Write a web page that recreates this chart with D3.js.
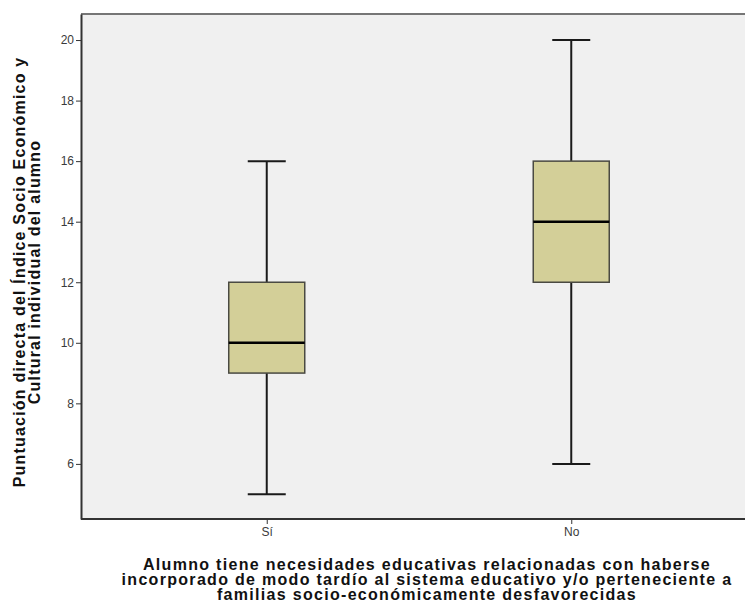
<!DOCTYPE html>
<html>
<head>
<meta charset="utf-8">
<script src="https://cdn.jsdelivr.net/npm/d3@7"></script>
<style>
  body { margin: 0; background: #fff; }
  svg { display: block; font-family: "Liberation Sans", Arial, sans-serif; }
</style>
</head>
<body>
<svg id="chart" width="745" height="610"></svg>
<script>
// data
const categories = ["Sí", "No"];
const whiskerLow = [5, 6];
const q1 = [9, 12];
const medians = [10, 14];
const q3 = [12, 16];
const whiskerHigh = [16, 20];
const yTicks = [6, 8, 10, 12, 14, 16, 18, 20];

const boxes = categories.map((c, i) => ({
  cat: c, lo: whiskerLow[i], q1: q1[i], med: medians[i], q3: q3[i], hi: whiskerHigh[i]
}));

const svg = d3.select("#chart");
const plotLeft = 81, plotRight = 757, plotTop = 14, plotBottom = 519;

const y = d3.scaleLinear().domain([4.18, 20.86]).range([plotBottom, plotTop]);
const x = d3.scalePoint().domain(categories).range([plotLeft, plotRight]).padding(0.61);

// plot background
svg.append("rect")
  .attr("x", plotLeft).attr("y", plotTop)
  .attr("width", 745 - plotLeft).attr("height", plotBottom - plotTop)
  .attr("fill", "#f0f0f0");

// top frame line
svg.append("line")
  .attr("x1", plotLeft).attr("x2", 745)
  .attr("y1", plotTop).attr("y2", plotTop)
  .attr("stroke", "#767676").attr("stroke-width", 2);

const boxW = 76, capW = 38;

const g = svg.append("g").selectAll("g").data(boxes).join("g");

// whiskers
g.append("line")
  .attr("x1", d => x(d.cat)).attr("x2", d => x(d.cat))
  .attr("y1", d => y(d.hi)).attr("y2", d => y(d.q3))
  .attr("stroke", "#1a1a1a").attr("stroke-width", 2);
g.append("line")
  .attr("x1", d => x(d.cat)).attr("x2", d => x(d.cat))
  .attr("y1", d => y(d.q1)).attr("y2", d => y(d.lo))
  .attr("stroke", "#1a1a1a").attr("stroke-width", 2);
g.selectAll(".cap")
  .data(d => [d.lo, d.hi].map(v => ({ cat: d.cat, v })))
  .join("line")
  .attr("class", "cap")
  .attr("x1", d => x(d.cat) - capW / 2).attr("x2", d => x(d.cat) + capW / 2)
  .attr("y1", d => y(d.v)).attr("y2", d => y(d.v))
  .attr("stroke", "#1a1a1a").attr("stroke-width", 2);

// box
g.append("rect")
  .attr("x", d => x(d.cat) - boxW / 2)
  .attr("y", d => y(d.q3))
  .attr("width", boxW)
  .attr("height", d => y(d.q1) - y(d.q3))
  .attr("fill", "#d3cf98")
  .attr("stroke", "#4a4a42").attr("stroke-width", 1.5);

// median
g.append("line")
  .attr("x1", d => x(d.cat) - boxW / 2).attr("x2", d => x(d.cat) + boxW / 2)
  .attr("y1", d => y(d.med)).attr("y2", d => y(d.med))
  .attr("stroke", "#000").attr("stroke-width", 2.5);

// axes
const yAxis = svg.append("g")
  .attr("transform", `translate(${plotLeft},0)`)
  .call(d3.axisLeft(y).tickValues(yTicks).tickSize(5).tickPadding(2).tickSizeOuter(0));
yAxis.select(".domain").attr("stroke", "#333").attr("stroke-width", 2);
yAxis.selectAll(".tick line").attr("stroke", "#333");
yAxis.selectAll("text").attr("font-size", 12).attr("fill", "#3a3a3a")
  .attr("font-family", "'Liberation Sans', Arial, sans-serif");

const xAxis = svg.append("g")
  .attr("transform", `translate(0,${plotBottom})`)
  .call(d3.axisBottom(x).tickSize(5).tickPadding(3).tickSizeOuter(0));
xAxis.select(".domain").attr("d", `M${plotLeft},0H745`).attr("stroke", "#333").attr("stroke-width", 2);
xAxis.selectAll(".tick line").attr("stroke", "#333");
xAxis.selectAll("text").attr("font-size", 12).attr("fill", "#3a3a3a")
  .attr("font-family", "'Liberation Sans', Arial, sans-serif");

// y title
const yTitle = ["Puntuación directa del Índice Socio Económico y", "Cultural individual del alumno"];
svg.append("text")
  .attr("transform", `translate(25,272) rotate(-90)`)
  .attr("text-anchor", "middle")
  .attr("font-size", 16).attr("font-weight", "bold").attr("fill", "#111")
  .attr("letter-spacing", 1.2)
  .selectAll("tspan").data(yTitle).join("tspan")
  .attr("x", 0).attr("dy", (d, i) => i ? 14.5 : 0)
  .text(d => d);

// x title
const xTitle = [
  "Alumno tiene necesidades educativas relacionadas con haberse",
  "incorporado de modo tardío al sistema educativo y/o perteneciente a",
  "familias socio-económicamente desfavorecidas"
];
svg.append("text")
  .attr("text-anchor", "middle")
  .attr("font-size", 16).attr("font-weight", "bold").attr("fill", "#111")
  .attr("letter-spacing", 1.3)
  .selectAll("tspan").data(xTitle).join("tspan")
  .attr("x", 427).attr("y", (d, i) => 570 + i * 15)
  .text(d => d);
</script>
</body>
</html>
